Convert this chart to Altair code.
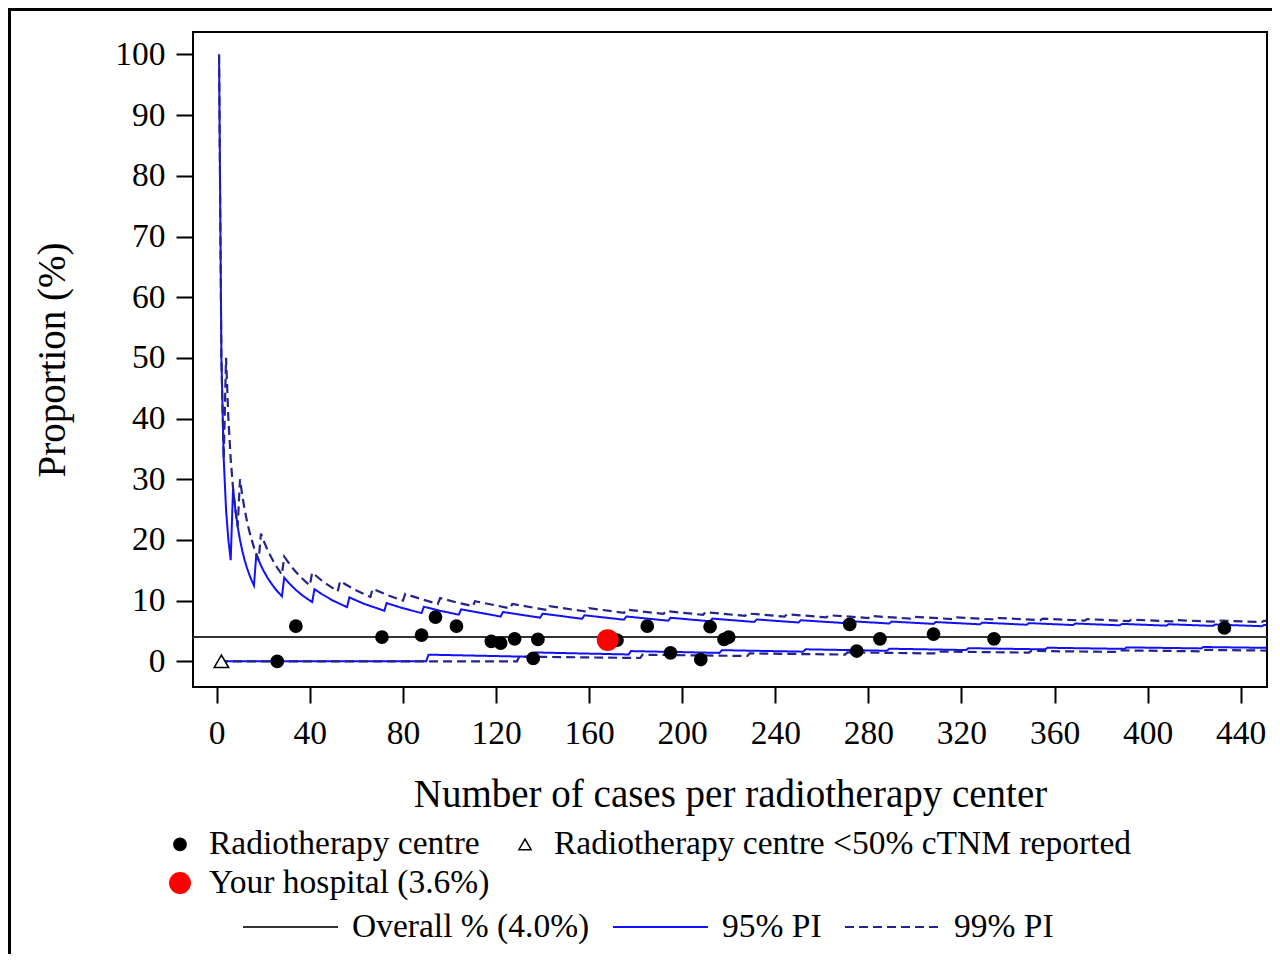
import altair as alt
import pandas as pd

# ---- centres: cases per centre and % ----
centre_n = [26, 34, 71, 88, 94, 103, 118, 122, 128, 136, 138, 172, 185, 195,
            208, 212, 218, 220, 272, 275, 285, 308, 334, 433]
centre_pct = [0.0, 5.8, 4.0, 4.3, 7.3, 5.8, 3.3, 3.0, 3.7, 0.5, 3.6, 3.5, 5.8, 1.4,
              0.3, 5.7, 3.6, 4.0, 6.1, 1.7, 3.7, 4.5, 3.7, 5.5]
lowrep_n = [2]
lowrep_pct = [0.0]
hosp_n = [168]
hosp_pct = [3.5]
overall_pct = 4.0

# ---- prediction limits (%), read at the teeth of the funnel ----
u95_n = [1, 2, 3, 4, 5, 6, 7, 8, 9, 10, 11, 12, 13, 14, 15, 16, 17, 18, 19, 20, 22, 25, 28,
         29, 31, 34, 37, 41, 42, 45, 50, 56, 57, 63, 72, 73, 80, 88, 89, 96, 104, 105, 122,
         123, 139, 140, 157, 158, 175, 176, 194, 195, 212, 213, 231, 232, 250, 251, 269,
         270, 289, 290, 308, 309, 328, 329, 348, 349, 368, 369, 388, 389, 408, 409, 428,
         429, 449, 450, 451]
u95_pct = [100, 50, 33.33, 25, 20, 16.67, 28.57, 25, 22.22, 20, 18.18, 16.67, 15.38, 14.29,
           13.33, 12.5, 17.65, 16.67, 15.79, 15, 13.64, 12, 10.71, 13.79, 12.9, 11.76, 10.81,
           9.76, 11.9, 11.11, 10, 8.93, 10.53, 9.52, 8.33, 9.59, 8.75, 7.95, 8.99, 8.33, 7.69,
           8.57, 7.38, 8.13, 7.19, 7.86, 7.01, 7.59, 6.86, 7.39, 6.70, 7.18, 6.60, 7.04, 6.49,
           6.90, 6.40, 6.77, 6.32, 6.67, 6.23, 6.55, 6.17, 6.47, 6.10, 6.38, 6.03, 6.30, 5.98,
           6.23, 5.93, 6.17, 5.88, 6.11, 5.84, 6.06, 5.79, 6.00, 5.99]
l95_n = [1, 90, 91, 136, 137, 177, 178, 216, 217, 252, 253, 288, 289, 322, 323, 356,
         357, 390, 391, 423, 424, 451]
l95_pct = [0, 0, 1.10, 0.74, 1.46, 1.13, 1.69, 1.39, 1.84, 1.59, 1.98, 1.74, 2.08, 1.86,
           2.17, 1.97, 2.24, 2.05, 2.30, 2.13, 2.36, 2.22]
u99_n = [1, 2, 3, 4, 5, 6, 7, 8, 9, 10, 11, 12, 13, 14, 16, 18, 19, 20, 22, 25, 28,
         29, 32, 36, 40, 41, 46, 52, 53, 59, 66, 67, 73, 80, 81, 88, 95, 96, 103, 110,
         111, 126, 127, 142, 143, 159, 160, 175, 176, 192, 193, 209, 210, 227, 228, 244,
         245, 262, 263, 280, 281, 298, 299, 317, 318, 335, 336, 354, 355, 373, 374, 392,
         393, 411, 412, 429, 430, 449, 450, 451]
u99_pct = [100, 50, 33.33, 50, 40, 33.33, 28.57, 25, 22.22, 30, 27.27, 25, 23.08, 21.43,
           18.75, 16.67, 21.05, 20, 18.18, 16, 14.29, 17.24, 15.63, 13.89, 12.5, 14.63,
           13.04, 11.54, 13.21, 11.86, 10.61, 11.94, 10.96, 10, 11.11, 10.23, 9.47, 10.42,
           9.71, 9.09, 9.91, 8.73, 9.45, 8.45, 9.09, 8.18, 8.75, 8.0, 8.52, 7.81, 8.29, 7.66,
           8.10, 7.49, 7.89, 7.38, 7.76, 7.25, 7.60, 7.14, 7.47, 7.05, 7.36, 6.94, 7.23, 6.87,
           7.14, 6.78, 7.04, 6.70, 6.95, 6.63, 6.87, 6.57, 6.80, 6.53, 6.74, 6.46, 6.67, 6.65]
l99_n = [1, 129, 130, 182, 183, 228, 229, 270, 271, 310, 311, 349, 350, 386, 387, 423, 424, 451]
l99_pct = [0, 0, 0.77, 0.55, 1.09, 0.88, 1.31, 1.11, 1.48, 1.29, 1.61, 1.43, 1.71, 1.55,
           1.81, 1.65, 1.89, 1.77]

x_ticks = list(range(0, 441, 40))
y_ticks = list(range(0, 101, 10))

kinds = ["Radiotherapy centre", "Radiotherapy centre <50% cTNM reported"]
hosp_label = "Your hospital (3.6%)"
series = ["Overall % (4.0%)", "95% PI", "99% PI"]

FONT = "Liberation Serif"

pts = pd.DataFrame({
    "n": centre_n + lowrep_n,
    "pct": centre_pct + lowrep_pct,
    "kind": [kinds[0]] * len(centre_n) + [kinds[1]] * len(lowrep_n),
})
hosp = pd.DataFrame({"n": hosp_n, "pct": hosp_pct, "who": [hosp_label]})


def limit_rows(name, parts):
    rows = []
    for part, ns, ps in parts:
        for n, p in zip(ns, ps):
            rows.append({"series": name, "part": part, "n": n, "pct": p})
    return pd.DataFrame(rows)


pi95 = limit_rows("95% PI", [("u", u95_n, u95_pct), ("l", l95_n, l95_pct)])
pi99 = limit_rows("99% PI", [("u", u99_n, u99_pct), ("l", l99_n, l99_pct)])
overall = pd.DataFrame({"series": [series[0]], "pct": [overall_pct]})

xs = alt.Scale(domain=[-10.2, 451.3], nice=False, zero=False)
ys = alt.Scale(domain=[-4.23, 103.7], nice=False, zero=False)

x_enc = alt.X("n:Q", scale=xs, title="Number of cases per radiotherapy center",
              axis=alt.Axis(values=x_ticks, format="d", tickSize=16, labelPadding=14,
                            titlePadding=26))
y_enc = alt.Y("pct:Q", scale=ys, title="Proportion (%)",
              axis=alt.Axis(values=y_ticks, format="d", tickSize=17, labelPadding=11,
                            titlePadding=42))

leg_text = dict(title=None, orient="none", labelFont=FONT, labelFontSize=33.5,
                labelColor="black", labelLimit=1000, padding=0)

line_legend = alt.Legend(legendX=49, legendY=846.5, direction="horizontal", columns=3,
                         columnPadding=19, labelOffset=13, symbolType="stroke",
                         symbolSize=9025, symbolStrokeWidth=2, **leg_text)
color_enc = alt.Color("series:N", scale=alt.Scale(domain=series,
                      range=["#333333", "#1010ff", "#24248c"]), legend=line_legend)
dash_enc = alt.StrokeDash("series:N", scale=alt.Scale(domain=series,
                          range=[[1, 0], [1, 0], [9, 5]]), legend=line_legend)

rule = alt.Chart(overall).mark_rule(strokeWidth=2).encode(
    y=alt.Y("pct:Q", scale=ys), color=color_enc, strokeDash=dash_enc)

lines95 = alt.Chart(pi95).mark_line(strokeWidth=2, clip=True).encode(
    x=x_enc, y=y_enc, detail="part:N", order="n:Q", color=color_enc, strokeDash=dash_enc)
lines99 = alt.Chart(pi99).mark_line(strokeWidth=2.2, clip=True).encode(
    x=x_enc, y=y_enc, detail="part:N", order="n:Q", color=color_enc, strokeDash=dash_enc)

pt_legend = alt.Legend(legendX=-29.75, legendY=795.25, direction="horizontal", columns=2,
                       columnPadding=28, labelOffset=12.25, symbolSize=150,
                       symbolStrokeWidth=1.5, **leg_text)
points = alt.Chart(pts).mark_point(filled=True, opacity=1, strokeWidth=1.5).encode(
    x=x_enc, y=y_enc,
    shape=alt.Shape("kind:N", scale=alt.Scale(domain=kinds,
                    range=["circle", "triangle-up"]), legend=pt_legend),
    fill=alt.Fill("kind:N", scale=alt.Scale(domain=kinds,
                  range=["black", "white"]), legend=pt_legend),
    stroke=alt.Stroke("kind:N", scale=alt.Scale(domain=kinds,
                      range=["black", "black"]), legend=pt_legend),
    size=alt.condition(alt.datum.kind == kinds[1], alt.value(210), alt.value(150)),
)

hosp_legend = alt.Legend(legendX=-29.75, legendY=834.25, labelOffset=12.25,
                         symbolType="circle", symbolFillColor="#ff0000",
                         symbolStrokeColor="#ff0000", symbolStrokeWidth=1.5, **leg_text)
hospital = alt.Chart(hosp).mark_point(filled=True, opacity=1, strokeWidth=1.5,
                                      shape="circle", color="#ff0000").encode(
    x=x_enc, y=y_enc,
    size=alt.Size("who:N", scale=alt.Scale(domain=[hosp_label], range=[480, 480]),
                  legend=hosp_legend),
)

# outer figure frame
frame = alt.Chart(pd.DataFrame({"a": [0]})).mark_rect(
    fillOpacity=0, stroke="black", strokeWidth=3, clip=False).encode(
    x=alt.value(-183.5), x2=alt.value(1100), y=alt.value(-22.5), y2=alt.value(945))

chart = (
    alt.layer(rule, lines95, lines99, points, hospital, frame)
    .properties(width=1074, height=655,
                autosize=alt.AutoSizeParams(type="none"),
                padding={"left": 185, "top": 24, "right": 5, "bottom": 267})
    .configure_view(stroke="black", strokeWidth=2)
    .configure_axis(domain=False, grid=False, tickColor="black", tickWidth=2,
                    labelFont=FONT, labelFontSize=33.5, labelColor="black",
                    titleFont=FONT, titleFontSize=39, titleFontWeight="normal",
                    titleColor="black")
)

chart.save("out.html", embed_options={"renderer": "svg", "actions": False})
